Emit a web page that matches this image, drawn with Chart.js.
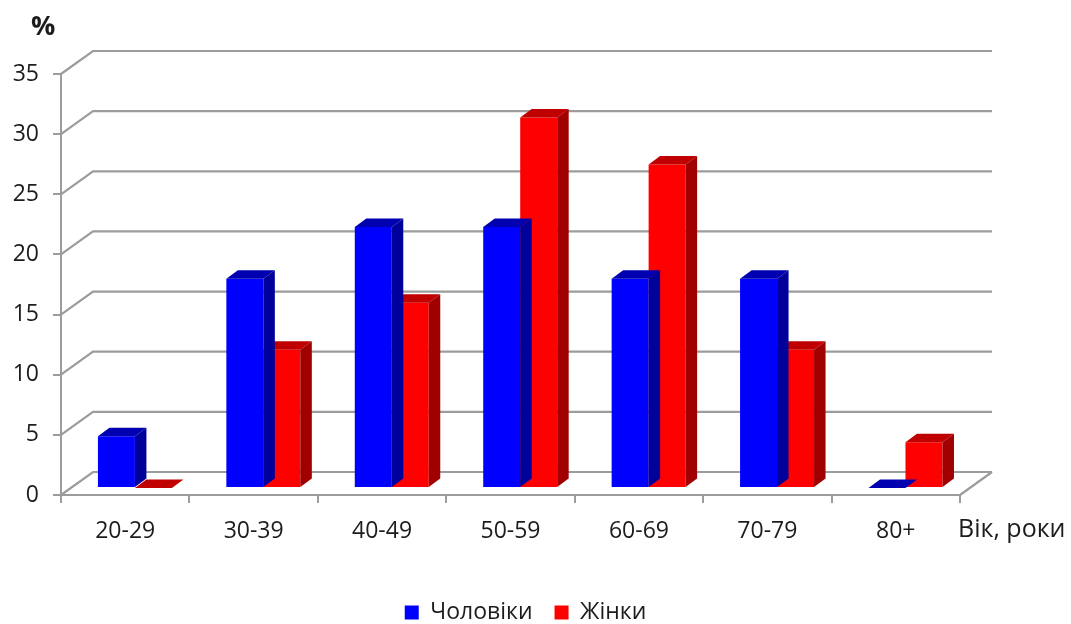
<!DOCTYPE html>
<html>
<head>
<meta charset="utf-8">
<script src="https://cdn.jsdelivr.net/npm/chart.js@4"></script>
<style>
  html, body { margin: 0; padding: 0; background: #fff; }
  #wrap { width: 1071px; height: 624px; }
</style>
</head>
<body>
<div id="wrap"><canvas id="ageChart"></canvas></div>
<script>
// Розподіл за віком, % від кожної статі
const ageGroups = ['20-29', '30-39', '40-49', '50-59', '60-69', '70-79', '80+'];
const menShare = [4.3, 17.4, 21.7, 21.7, 17.4, 17.4, 0];
const womenShare = [0, 11.5, 15.4, 30.8, 26.9, 11.5, 3.8];
const yMax = 35;
const yStep = 5;

const FONT = '"Open Sans", "DejaVu Sans", sans-serif';
const TEXT = '#1c1c1c';
const GRID = '#9c9c9c';

// oblique "3D" look: back wall offset, bar shift into the box, bar depth
const wall = { dx: 32, dy: -23 };
const shift = { dx: 9.7, dy: -7 };
const depth = { dx: 11.5, dy: -8.5 };

const shades = [
  { top: '#0000b0', side: '#00009a' },
  { top: '#c00000', side: '#a00000' }
];

const box3d = {
  id: 'box3d',
  beforeDatasetsDraw(chart) {
    const { ctx, chartArea: a, scales: { y } } = chart;
    ctx.save();
    ctx.strokeStyle = GRID;
    ctx.lineWidth = 2.2;
    y.ticks.forEach(t => {
      const py = y.getPixelForValue(t.value);
      ctx.beginPath();
      ctx.moveTo(a.left, py);
      ctx.lineTo(a.left + wall.dx, py + wall.dy);
      ctx.lineTo(a.right + wall.dx, py + wall.dy);
      ctx.stroke();
    });
    // right edge of the floor
    const y0 = y.getPixelForValue(0);
    ctx.beginPath();
    ctx.moveTo(a.right, y0);
    ctx.lineTo(a.right + wall.dx, y0 + wall.dy);
    ctx.stroke();
    ctx.restore();

    // bars sit a bit deeper than the front plane
    ctx.save();
    ctx.translate(shift.dx, shift.dy);
  },
  afterDatasetDraw(chart, args) {
    const { ctx } = chart;
    const c = shades[args.index];
    args.meta.data.forEach(bar => {
      const { x, y, base, width } = bar.getProps(['x', 'y', 'base', 'width'], true);
      const l = x - width / 2, r = x + width / 2, top = Math.min(y, base);
      // top face
      ctx.fillStyle = c.top;
      ctx.beginPath();
      ctx.moveTo(l, top);
      ctx.lineTo(l + depth.dx, top + depth.dy);
      ctx.lineTo(r + depth.dx, top + depth.dy);
      ctx.lineTo(r, top);
      ctx.closePath();
      ctx.fill();
      // side face
      if (base - top > 0.5) {
        ctx.fillStyle = c.side;
        ctx.beginPath();
        ctx.moveTo(r, top);
        ctx.lineTo(r + depth.dx, top + depth.dy);
        ctx.lineTo(r + depth.dx, base + depth.dy);
        ctx.lineTo(r, base);
        ctx.closePath();
        ctx.fill();
      }
    });
  },
  afterDatasetsDraw(chart) {
    chart.ctx.restore();
  },
  afterDraw(chart) {
    const { ctx, chartArea: a } = chart;
    ctx.save();
    ctx.fillStyle = TEXT;
    ctx.textBaseline = 'middle';
    ctx.textAlign = 'left';
    ctx.font = 'bold 27px ' + FONT;
    ctx.fillText('%', 31, 27);
    ctx.font = '25px ' + FONT;
    ctx.fillText('Вік, роки', a.right - 2, 530);
    ctx.restore();
  }
};

new Chart(document.getElementById('ageChart'), {
  type: 'bar',
  data: {
    labels: ageGroups,
    datasets: [
      { label: 'Чоловіки', data: menShare, backgroundColor: '#0000ff', borderWidth: 0, clip: false },
      { label: 'Жінки', data: womenShare, backgroundColor: '#ff0000', borderWidth: 0, clip: false }
    ]
  },
  options: {
    responsive: true,
    maintainAspectRatio: false,
    animation: false,
    layout: { padding: { top: 74, left: 0, right: 20, bottom: -10 } },
    datasets: { bar: { categoryPercentage: 0.576, barPercentage: 1.0 } },
    scales: {
      x: {
        afterFit(scale) { scale.height = 84; },
        border: { color: GRID, width: 2 },
        grid: { offset: true, drawOnChartArea: false, tickLength: 8, color: GRID, lineWidth: 2 },
        ticks: { color: TEXT, font: { family: FONT, size: 23 }, padding: 15, maxRotation: 0 }
      },
      y: {
        min: 0,
        max: yMax,
        afterFit(scale) { scale.width = 61; },
        border: { color: GRID, width: 2 },
        grid: { drawOnChartArea: false, tickLength: 8, color: GRID, lineWidth: 2 },
        ticks: { stepSize: yStep, color: TEXT, font: { family: FONT, size: 23 }, padding: 14 }
      },
      // empty right-hand strip that keeps room for the back wall and the axis name
      room: {
        position: 'right',
        min: 0,
        max: yMax,
        afterFit(scale) { scale.width = 91; },
        border: { display: false },
        grid: { display: false },
        ticks: { display: false }
      }
    },
    plugins: {
      tooltip: { enabled: false },
      legend: {
        position: 'bottom',
        labels: {
          color: TEXT,
          font: { family: FONT, size: 23 },
          boxWidth: 14,
          boxHeight: 14,
          padding: 22
        }
      }
    }
  },
  plugins: [box3d]
});
</script>
</body>
</html>
